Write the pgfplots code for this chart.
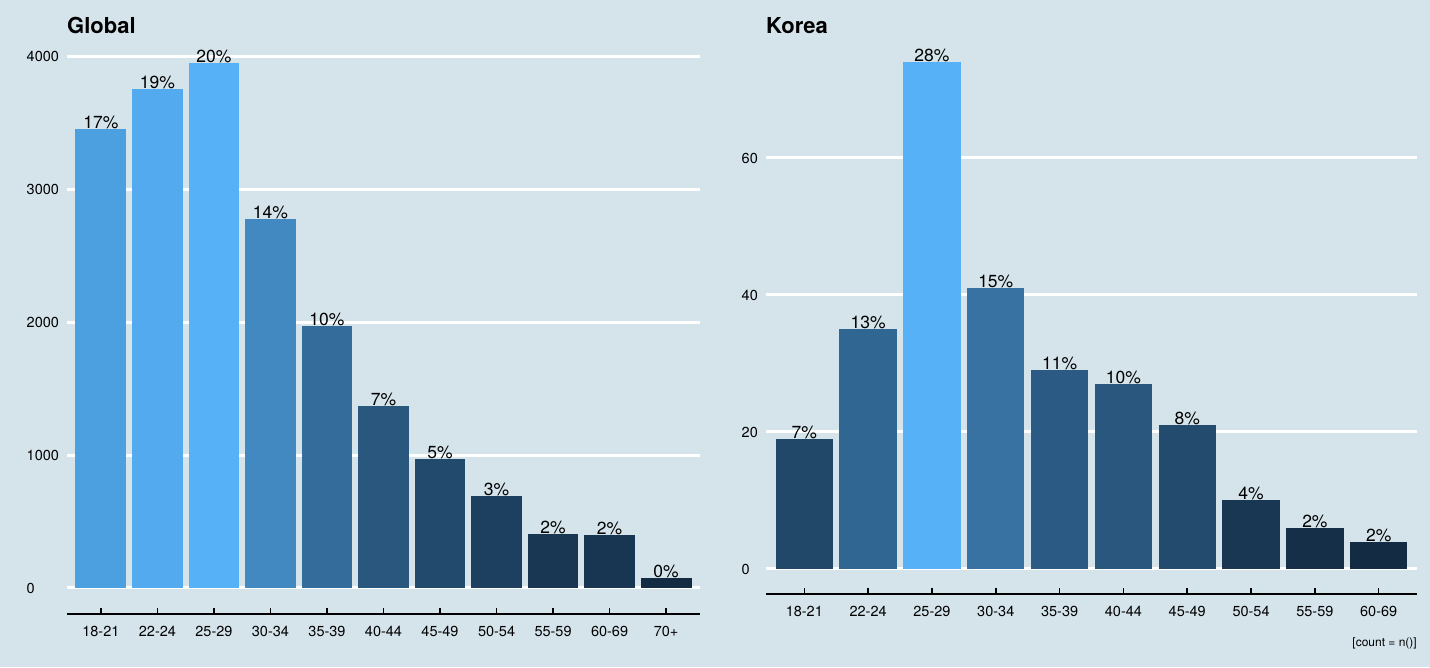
\documentclass[border=0pt]{standalone}
\usepackage{pgfplots}
\pgfplotsset{compat=1.18}
\usepackage{fontspec}
\setmainfont{TeX Gyre Heros}
\definecolor{bg}{HTML}{D5E4EB}
\definecolor{lo}{HTML}{132B43}
\definecolor{hi}{HTML}{56B1F7}
\pgfplotsset{
 mybar/.style={ybar, bar width=0.9, bar shift=0pt, draw=none, fill=hi!#1!lo},
 econ/.style={scale only axis, enlargelimits=false,
   axis x line*=bottom, axis y line*=left, axis line style={-},
   x axis line style={black, line width=1.3pt}, y axis line style={draw=none},
   xtick align=inside, major tick length=6pt,
   xtick style={black, line width=1.5pt}, ytick style={draw=none},
   ymajorgrids, grid style={white, line width=3pt},
   tick label style={font=\fontsize{14.5}{16}\selectfont},
   /pgf/number format/assume math mode=true,
   /pgf/number format/set thousands separator={},
   xticklabel style={yshift=-8.5pt},
   nodes near coords style={font=\fontsize{17.5}{20}\selectfont, anchor=south, inner sep=0pt},
   clip=false}
}
\begin{document}
\begin{tikzpicture}
\fill[bg] (0,0) rectangle (1430pt,667pt);
\useasboundingbox (0,0) rectangle (1430pt,667pt);
\begin{axis}[econ, at={(67pt,53pt)}, anchor=south west, width=633pt, height=577pt,
  xmin=0.4, xmax=11.6, ymin=-195.5, ymax=4143,
  xtick={1,...,11},
  xticklabels={18-21,22-24,25-29,30-34,35-39,40-44,45-49,50-54,55-59,60-69,70+},
  ytick={0,1000,2000,3000,4000},
  yticklabel style={anchor=west, xshift=-43.8pt}]
\addplot[mybar=87, nodes near coords={17\%}] coordinates {(1,3450)};
\addplot[mybar=95, nodes near coords={19\%}] coordinates {(2,3755)};
\addplot[mybar=100, nodes near coords={20\%}] coordinates {(3,3947)};
\addplot[mybar=70, nodes near coords={14\%}] coordinates {(4,2772)};
\addplot[mybar=49, nodes near coords={10\%}] coordinates {(5,1968)};
\addplot[mybar=33, nodes near coords={7\%}] coordinates {(6,1368)};
\addplot[mybar=23, nodes near coords={5\%}] coordinates {(7,968)};
\addplot[mybar=16, nodes near coords={3\%}] coordinates {(8,690)};
\addplot[mybar=9, nodes near coords={2\%}] coordinates {(9,405)};
\addplot[mybar=8, nodes near coords={2\%}] coordinates {(10,398)};
\addplot[mybar=0, nodes near coords={0\%}] coordinates {(11,75)};
\end{axis}
\begin{axis}[econ, at={(766pt,73pt)}, anchor=south west, width=651pt, height=557pt,
  xmin=0.4, xmax=10.6, ymin=-3.65, ymax=77.66,
  xtick={1,...,10},
  xticklabels={18-21,22-24,25-29,30-34,35-39,40-44,45-49,50-54,55-59,60-69},
  ytick={0,20,40,60},
  yticklabel style={anchor=west, xshift=-27.8pt}]
\addplot[mybar=21, nodes near coords={7\%}] coordinates {(1,19)};
\addplot[mybar=44, nodes near coords={13\%}] coordinates {(2,35)};
\addplot[mybar=100, nodes near coords={28\%}] coordinates {(3,74)};
\addplot[mybar=53, nodes near coords={15\%}] coordinates {(4,41)};
\addplot[mybar=36, nodes near coords={11\%}] coordinates {(5,29)};
\addplot[mybar=33, nodes near coords={10\%}] coordinates {(6,27)};
\addplot[mybar=24, nodes near coords={8\%}] coordinates {(7,21)};
\addplot[mybar=9, nodes near coords={4\%}] coordinates {(8,10)};
\addplot[mybar=3, nodes near coords={2\%}] coordinates {(9,6)};
\addplot[mybar=0, nodes near coords={2\%}] coordinates {(10,4)};
\end{axis}
\node[anchor=base west, font=\bfseries\fontsize{22}{26}\selectfont, inner sep=0pt] at (67pt,633pt) {Global};
\node[anchor=base west, font=\bfseries\fontsize{22}{26}\selectfont, inner sep=0pt] at (766pt,633pt) {Korea};
\node[anchor=base east, font=\fontsize{12}{14}\selectfont, inner sep=0pt] at (1417pt,20.5pt) {[count = n()]};
\end{tikzpicture}
\end{document}
